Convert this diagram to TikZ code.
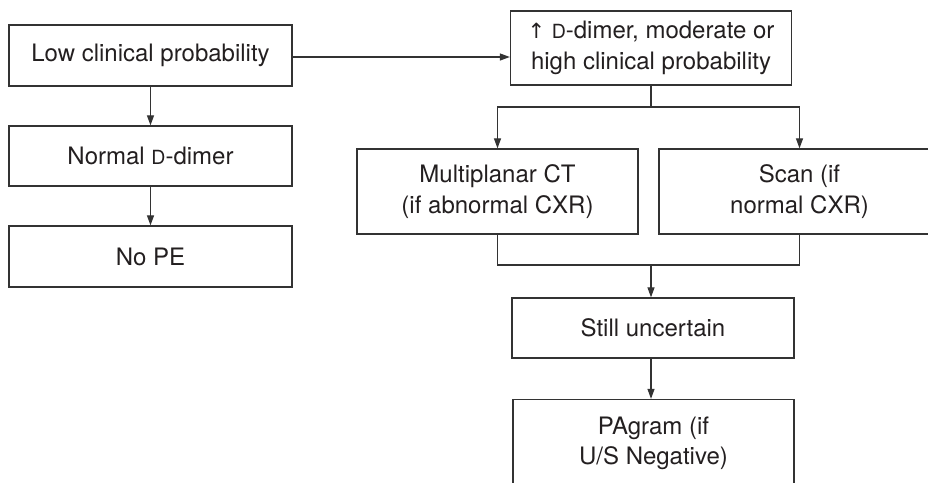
\documentclass[tikz,border=0pt]{standalone}
\usepackage{fontspec}
\setmainfont{TeX Gyre Heros}
\newfontfamily\symfont{DejaVu Sans}
\usetikzlibrary{arrows.meta}
\definecolor{ink}{HTML}{231F20}
\definecolor{linec}{HTML}{333333}
\newcommand{\smD}{{\fontsize{19.5}{19.5}\selectfont D}}
\tikzset{
  box/.style={draw=linec, line width=1.3pt, inner sep=0pt, align=center,
    text=ink, font=\fontsize{24}{30.5}\selectfont},
  arr/.style={draw=linec, line width=1.2pt, -{Triangle[length=10pt,width=7pt]}},
  ln/.style={draw=linec, line width=1.2pt}
}
\begin{document}
\begin{tikzpicture}[x=1pt,y=-1pt]
\useasboundingbox[fill=white] (0,0) rectangle (928,482);
% left column
\node[box, minimum width=283pt, minimum height=61pt] (low) at (150.5,55.5) {Low clinical probability};
\node[box, minimum width=283pt, minimum height=60pt] (normal) at (150.5,156) {Normal \smD-dimer};
\node[box, minimum width=283pt, minimum height=61pt] (nope) at (150.5,256.5) {No PE};
% right column
\node[box, minimum width=281pt, minimum height=74pt] (top) at (651,48) {{\symfont\fontsize{21}{21}\selectfont ↑} \smD-dimer, moderate or\\high clinical probability};
\node[box, minimum width=281pt, minimum height=85pt] (multi) at (497.5,191.5) {Multiplanar CT\\(if abnormal CXR)};
\node[box, minimum width=281pt, minimum height=85pt] (scan) at (799.5,191.5) {Scan (if\\normal CXR)};
\node[box, minimum width=282pt, minimum height=60pt] (still) at (653,328) {Still uncertain};
\node[box, minimum width=281pt, minimum height=88pt] (pagram) at (653.5,443.5) {PAgram (if\\U/S Negative)};
% connectors
\draw[arr] (low) -- (normal);
\draw[arr] (normal) -- (nope);
\draw[arr] (low.east |- 0,57) -- (top.west |- 0,57);
\coordinate (br) at (651,107);
\draw[ln] (top.south) -- (br);
\draw[arr] (br) -| (multi.north);
\draw[arr] (br) -| (scan.north);
\coordinate (mg) at (651,265);
\draw[ln] (multi.south) |- (mg);
\draw[ln] (scan.south) |- (mg);
\draw[arr] (mg) -- (mg |- still.north);
\draw[arr] (still.south -| mg) -- (mg |- pagram.north);
\end{tikzpicture}
\end{document}
